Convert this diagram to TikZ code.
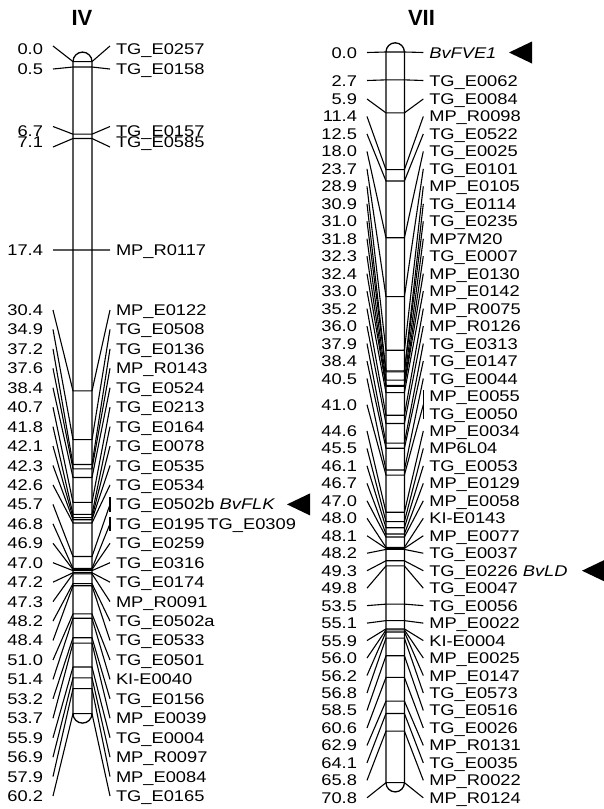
\documentclass[tikz,border=0pt]{standalone}
\usepackage{fontspec}
\setmainfont{Liberation Sans}
\usepackage{graphicx}
\usepackage{tikz}
\usetikzlibrary{positioning}
\newcommand{\wide}[1]{\scalebox{1.18}[1]{#1}}
\tikzset{
	chrom/.style={line width=1.3pt},
	link/.style={line width=1.1pt},
	% labels left and right of the bars
	poslabel/.style={anchor=east, inner sep=0pt, outer xsep=10pt, text height=11pt, text depth=0pt, font=\fontsize{15.5}{15.5}\selectfont},
	mklabel/.style={anchor=west, inner sep=0pt, outer xsep=6pt, text height=11pt, text depth=0pt, font=\fontsize{15.5}{15.5}\selectfont},
	grptitle/.style={font=\bfseries\fontsize{22}{22}\selectfont},
	genemark/.style={fill=black},
}

\begin{document}
\begin{tikzpicture}[x=1pt, y=-1pt]
	\useasboundingbox (0,0) rectangle (603,809);
	\node[grptitle] (ivtitle) at (82,18) {IV};
	\node[grptitle] (viititle) at (421.5,18) {VII};

	% chromosome IV
	\draw[chrom] (73,61.6) arc[start angle=180, end angle=0, radius=9.5pt] -- (92,713.6)
		arc[start angle=0, end angle=-180, radius=9.5pt] -- cycle;
	\foreach \ry/\dy/\cm/\mk [count=\i] in {49/-3/0.0/TG\_E0257, 69/0/0.5/TG\_E0158,
		131/-4.5/6.7/TG\_E0157, 142/5/7.1/TG\_E0585, 250/0/17.4/MP\_R0117}{
		\pgfmathsetmacro\my{61.6+10.83*\cm}
		\node[poslabel] (p4-t\i) at (53,\ry) {\wide{\cm}};
		\node[mklabel] (m4-t\i) at (110,\ry) {\wide{\mk}};
		\coordinate (l4-t\i) at (73,\my);
		\coordinate (r4-t\i) at (92,\my);
		\draw[link] ([yshift=-\dy pt]p4-t\i.east) -- (l4-t\i) -- (r4-t\i) -- ([yshift=-\dy pt]m4-t\i.west);
	}
	\foreach \k/\cm/\mk in {0/30.4/MP\_E0122, 1/34.9/TG\_E0508, 2/37.2/TG\_E0136, 3/37.6/MP\_R0143,
		4/38.4/TG\_E0524, 5/40.7/TG\_E0213, 6/41.8/TG\_E0164, 7/42.1/TG\_E0078, 8/42.3/TG\_E0535,
		9/42.6/TG\_E0534, 10/45.7/{TG\_E0502b \textit{BvFLK}}, 11/46.8/{TG\_E0195\,TG\_E0309},
		12/46.9/TG\_E0259, 13/47.0/TG\_E0316, 14/47.2/TG\_E0174, 15/47.3/MP\_R0091,
		16/48.2/TG\_E0502a, 17/48.4/TG\_E0533, 18/51.0/TG\_E0501, 19/51.4/KI-E0040,
		20/53.2/TG\_E0156, 21/53.7/MP\_E0039, 22/55.9/TG\_E0004, 23/56.9/MP\_R0097,
		24/57.9/MP\_E0084, 25/60.2/TG\_E0165}{
		\pgfmathsetmacro\ry{310+19.44*\k}
		\pgfmathsetmacro\my{61.6+10.83*\cm}
		\node[poslabel] (p4-\k) at (53,\ry) {\wide{\cm}};
		\node[mklabel] (m4-\k) at (110,\ry) {\wide{\mk}};
		\coordinate (l4-\k) at (73,\my);
		\coordinate (r4-\k) at (92,\my);
		\draw[link] (p4-\k.east) -- (l4-\k) -- (r4-\k) -- (m4-\k.west);
	}
	\draw[link] ([yshift=1.5pt]m4-10.north west) -- ([yshift=-1.5pt]m4-10.south west);
	\draw[link] ([yshift=1.5pt]m4-11.north west) -- ([yshift=-1.5pt]m4-11.south west);
	\coordinate (flk) at (287,504.4);
	\fill[genemark] (flk) -- ++(23,-11) -- ++(0,22) -- cycle;

	% chromosome VII
	\draw[chrom] (386,52) arc[start angle=180, end angle=0, radius=9.2pt] -- (404.4,782.7)
		arc[start angle=0, end angle=-180, radius=9.2pt] -- cycle;
	\foreach \ry/\cm/\mk [count=\i] in {52.5/0.0/\textit{BvFVE1}, 80.5/2.7/TG\_E0062}{
		\pgfmathsetmacro\my{52+10.32*\cm}
		\node[poslabel] (p7-t\i) at (367,\ry) {\wide{\cm}};
		\node[mklabel] (m7-t\i) at (423.3,\ry) {\wide{\mk}};
		\coordinate (l7-t\i) at (386,\my);
		\coordinate (r7-t\i) at (404.4,\my);
		\draw[link] (p7-t\i.east) -- (l7-t\i) -- (r7-t\i) -- (m7-t\i.west);
	}
	\foreach \k/\cm/\mk in {0/5.9/TG\_E0084, 1/11.4/MP\_R0098, 2/12.5/TG\_E0522, 3/18.0/TG\_E0025,
		4/23.7/TG\_E0101, 5/28.9/MP\_E0105, 6/30.9/TG\_E0114, 7/31.0/TG\_E0235, 8/31.8/MP7M20,
		9/32.3/TG\_E0007, 10/32.4/MP\_E0130, 11/33.0/MP\_E0142, 12/35.2/MP\_R0075,
		13/36.0/MP\_R0126, 14/37.9/TG\_E0313, 15/38.4/TG\_E0147, 16/40.5/TG\_E0044,
		19/44.6/MP\_E0034, 20/45.5/MP6L04, 21/46.1/TG\_E0053, 22/46.7/MP\_E0129,
		23/47.0/MP\_E0058, 24/48.0/KI-E0143, 25/48.1/MP\_E0077, 26/48.2/TG\_E0037,
		27/49.3/{TG\_E0226 \textit{BvLD}}, 28/49.8/TG\_E0047, 29/53.5/TG\_E0056,
		30/55.1/MP\_E0022, 31/55.9/KI-E0004, 32/56.0/MP\_E0025, 33/56.2/MP\_E0147,
		34/56.8/TG\_E0573, 35/58.5/TG\_E0516, 36/60.6/TG\_E0026, 37/62.9/MP\_R0131,
		38/64.1/TG\_E0035, 39/65.8/MP\_R0022, 40/70.8/MP\_R0124}{
		\pgfmathsetmacro\ry{99+17.47*\k}
		\pgfmathsetmacro\my{52+10.32*\cm}
		\node[poslabel] (p7-\k) at (367,\ry) {\wide{\cm}};
		\node[mklabel] (m7-\k) at (423.3,\ry) {\wide{\mk}};
		\coordinate (l7-\k) at (386,\my);
		\coordinate (r7-\k) at (404.4,\my);
		\draw[link] (p7-\k.east) -- (l7-\k) -- (r7-\k) -- (m7-\k.west);
	}
	% two markers at 41.0
	\node[poslabel] (p7-pair) at (367,404.8) {\wide{41.0}};
	\node[mklabel] (m7-17) at (423.3,396) {\wide{MP\_E0055}};
	\node[mklabel] (m7-18) at (423.3,413.5) {\wide{TG\_E0050}};
	\coordinate (l7-pair) at (386,475.1);
	\coordinate (r7-pair) at (404.4,475.1);
	\coordinate (pairjoin) at (423.3,404.8);
	\draw[link] (p7-pair.east) -- (l7-pair) -- (r7-pair) -- (pairjoin);
	\draw[link] (m7-17.north west) -- (m7-18.south west);
	\coordinate (fve) at (509,52.5);
	\fill[genemark] (fve) -- ++(23,-11) -- ++(0,22) -- cycle;
	\coordinate (ld) at (582,570.7);
	\fill[genemark] (ld) -- ++(23,-11) -- ++(0,22) -- cycle;
\end{tikzpicture}
\end{document}
